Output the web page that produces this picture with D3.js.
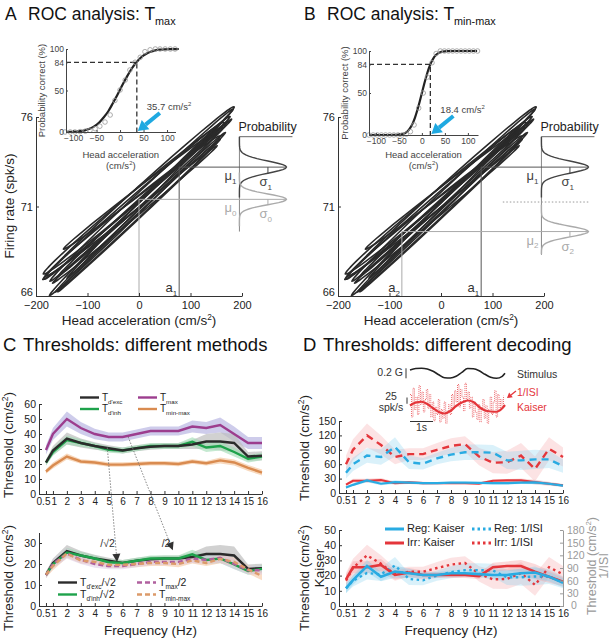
<!DOCTYPE html>
<html lang="en">
<head>
<meta charset="UTF-8">
<title>ROC analysis and thresholds</title>
<script src="https://cdn.jsdelivr.net/npm/d3@7"></script>
<style>
  body { margin: 0; background: #fff; }
  svg { display: block; }
</style>
</head>
<body>
<svg id="fig" width="612" height="639"></svg>
<script>
// ---------- data ----------
// A/B: psychometric (ROC) curves, head acceleration (cm/s^2) vs probability correct (%)
const fitAccA = [-115,-105,-95,-85,-75,-65,-55,-45,-35,-25,-15,-5,5,15,25,35,45,55,65,75,85,95,105,115,125];
const fitPctA = [0.1,0.2,0.5,1,2,3.8,6.7,11,17.4,25,35,45.6,56.6,67,76.5,84,90,94,96.7,98.3,99.2,99.6,99.8,99.9,100];
const ptAccA = [-117,-106,-96,-85,-74,-64,-53,-43,-32,-21,-11,0,11,21,32,43,53,64,75,85,96,107,117];
const ptPctA = [0,0,0,0.5,1,2,4,7,12,20.5,38,50.6,62.6,74.7,84,90,96.8,99,100,100,100,100,100];
const thrA = 35.7;

const fitAccB = [-115,-95,-75,-55,-45,-40,-35,-30,-25,-20,-15,-10,-5,0,5,10,15,20,25,30,35,40,45,55,75,95,120];
const fitPctB = [0,0,0,0.1,0.7,1.5,2.9,5.2,8.7,13.8,20.7,29.4,39.3,50,60.7,70.6,79.3,86.2,91.3,94.8,97.1,98.5,99.3,99.9,100,100,100];
const ptAccB = [-115,-106,-97,-88,-79,-70,-61,-52,-43,-34,-25,-17,-7,3,12,22,31,40,49,58,67,76,85,94,103,112,121];
const ptPctB = [0,0,0,0,0,0,0,0,0,1,4,12,32,50,69,86,97,100,100,100,100,100,100,100,100,100,100];
const thrB = 18.4;

// firing rate vs acceleration loops (one entry per stimulus cycle)
const loopAmp   = [178, 160, 185, 150, 170, 165, 182, 155, 172, 168, 176, 158];
const loopShift = [5, -8, 0, 10, -12, 3, -5, 8, -2, 12, -10, 0];
const loopOff   = [0.3, -0.45, 0.55, -0.15, 0.1, -0.6, 0.4, 0.65, -0.3, 0.0, 0.5, -0.7];
const loopGain  = [0.027, 0.024, 0.026, 0.029, 0.023, 0.027, 0.025, 0.022, 0.028, 0.026, 0.024, 0.027];
const loopWidth = [0.3, 0.2, 0.4, 0.18, 0.35, 0.22, 0.3, 0.25, 0.3, 0.22, 0.4, 0.18];
const rateAt0 = 71.2;

// response distributions: [stimulus a1, reference a0/a2]
const distAccA = [78, 0],   distMuA = [73.2, 71.4], distSdA = [0.34, 0.3];
const distAccB = [78, -76], distMuB = [73.2, 69.6], distSdB = [0.34, 0.3];
const criterionB = 71.25;

// C: thresholds by method (cm/s^2)
const freqs = [0.5, 1, 2, 3, 4, 5, 6, 7, 8, 9, 10, 11, 12, 13, 14, 15, 16];
const tDexc   = [21, 29, 37, 34, 32, 30.5, 29, 30.5, 31.5, 32, 32, 33, 35, 35, 34, 25, 25.5];
const tDinh   = [21, 28, 36, 34, 32, 29.5, 29, 30.5, 32, 32, 32, 34.8, 31, 32, 28, 23.5, 25];
const tMax    = [29.4, 40, 50, 44, 40, 38, 38, 40, 42, 42, 42, 45, 44, 46, 40, 34, 34];
const tMinMax = [15, 19, 25, 21.7, 21, 19.6, 19.6, 20, 20.5, 20.5, 20, 21.7, 20.5, 22.4, 21, 17.4, 14.3];
const eDexc   = [2, 3, 4, 3, 2.5, 2, 2, 2, 2, 2, 2, 3, 5, 6, 6, 3, 3];
const eDinh   = [2, 2.5, 3, 2.5, 2, 2, 2, 2, 2, 2, 2, 3, 3, 3, 3, 2.5, 2.5];
const eMax    = [3, 4, 5, 4, 3.5, 3, 3, 3, 3, 3, 3, 4, 4, 5, 5, 4, 4];
const eMinMax = [1.5, 2, 2, 1.5, 1.5, 1.5, 1.5, 1.5, 1.5, 1.5, 1.5, 1.5, 1.5, 2, 2, 2, 2];

// D: thresholds by decoding (cm/s^2)
const irrKaiser = [17.5, 25.5, 25.5, 27, 20.4, 22, 20.4, 20.4, 20.4, 20.4, 19.7, 25.5, 26.3, 26.3, 22.6, 19.3, 16];
const regKaiser = [11.6, 17, 26.3, 19.3, 22.6, 21.5, 20.4, 20.4, 21.5, 21.5, 21, 20.4, 20.4, 21.5, 22, 19.3, 15.3];
const irrIsi    = [60, 90, 120, 100, 75, 81, 81, 90, 98, 102, 76, 63, 64, 78, 50, 92, 75];
const regIsi    = [42, 60, 78, 75, 96, 64, 61, 72, 80, 85, 85, 84, 68, 68, 70, 70, 56];
const eIrrKaiser = [3, 4, 4, 4, 3, 3, 3, 2, 2, 2, 2, 3, 3, 4, 5, 4, 3];
const eRegKaiser = [3, 3, 4, 3, 4, 3, 2, 2, 2, 2, 2, 3, 3, 3, 4, 3, 3];
const eIrrIsi    = [18, 22, 25, 20, 15, 12, 12, 14, 16, 16, 18, 22, 24, 26, 26, 24, 20];
const eRegIsi    = [12, 14, 15, 16, 20, 14, 12, 12, 14, 16, 16, 16, 18, 20, 20, 18, 14];

// D inset: stimulus (G) and firing rate (spk/s) over time (s)
const stimT = [0, 0.25, 0.5, 0.75, 1, 1.25, 1.5, 1.75, 2, 2.25, 2.5, 2.75, 3, 3.25, 3.5, 3.75, 4, 4.12];
const stimG = [0.066, 0.095, 0.1, 0.085, 0.04, -0.03, -0.09, -0.095, -0.06, 0.02, 0.095, 0.09, 0.05, -0.02, -0.08, -0.1, -0.06, 0];
const kaiserRate = [106, 118, 121, 112, 95, 80, 74, 84, 104, 118, 126, 120, 100, 86, 82, 81, 95, 108];
const isiRate = [150, 60, 175, 90, 140, 70, 185, 110, 160, 80, 130, 170, 95, 150, 60, 120, 45, 100, 70, 130, 40, 90,
  55, 120, 35, 85, 110, 70, 150, 95, 165, 120, 190, 100, 170, 140, 85, 195, 130, 160, 95, 140, 60, 120, 80, 50,
  110, 40, 95, 130, 55, 105, 35, 90, 140, 70, 120, 165, 60, 150, 85, 130, 100, 145];

// ---------- helpers ----------
const FONT = '"Liberation Sans", Arial, Helvetica, sans-serif';
const svg = d3.select("#fig").attr("font-family", FONT);

function txt(g, x, y, parts, size, o = {}) {
  const t = g.append("text").attr("x", x).attr("y", y)
    .attr("font-size", size).attr("fill", o.fill || "#222")
    .attr("text-anchor", o.anchor || "start");
  if (o.rot) t.attr("transform", `rotate(-90,${x},${y})`);
  let shift = 0;
  (Array.isArray(parts) ? parts : [parts]).forEach(p => {
    const q = typeof p === "string" ? { t: p } : p;
    const target = q.sub ? size * 0.3 : q.sup ? -size * 0.38 : 0;
    const s = t.append("tspan").text(q.t).attr("dy", target - shift);
    if (q.sub || q.sup) s.attr("font-size", size * 0.62);
    shift = target;
  });
  return t;
}

function axis(g, gen, tx, ty, size, color = "#333") {
  const a = g.append("g").attr("transform", `translate(${tx},${ty})`).call(gen)
    .attr("font-family", FONT).attr("font-size", size);
  a.select(".domain").attr("stroke", color);
  a.selectAll(".tick line").attr("stroke", color);
  a.selectAll(".tick text").attr("fill", color === "#333" ? "#222" : color);
  return a;
}

function arrow(g, x1, y1, x2, y2, w, hl, hw, color) {
  const a = Math.atan2(y2 - y1, x2 - x1), c = Math.cos(a), s = Math.sin(a);
  const bx = x2 - hl * c, by = y2 - hl * s;
  g.append("line").attr("x1", x1).attr("y1", y1).attr("x2", bx).attr("y2", by)
    .attr("stroke", color).attr("stroke-width", w);
  g.append("path").attr("fill", color)
    .attr("d", `M${x2},${y2}L${bx - hw * s},${by + hw * c}L${bx + hw * s},${by - hw * c}Z`);
}

const sup2 = (pre, post = ")") => [pre, { t: "2", sup: true }, post];

// ---------- panels A and B ----------
function drawRoc(p) {
  const g = svg.append("g");
  const x = d3.scaleLinear([-200, 200], p.mainX);
  const y = d3.scaleLinear([66, 76], [296, 117]);

  txt(g, p.titleX, 20, p.letter, 17.5, { fill: "#111" });
  txt(g, p.titleX + 23, 20, ["ROC analysis: T", { t: p.sub, sub: true }], 17.5, { fill: "#111" });

  // loops
  const angles = d3.range(0, 360, 10).map(d => d * Math.PI / 180);
  loopAmp.forEach((A, i) => {
    const pts = angles.map(t => {
      const acc = loopShift[i] + A * Math.sin(t);
      return [x(acc), y(rateAt0 + loopOff[i] + loopGain[i] * acc + loopWidth[i] * Math.cos(t))];
    });
    g.append("path").attr("d", d3.line().curve(d3.curveCatmullRomClosed)(pts))
      .attr("fill", "none").attr("stroke", "#2a2a2a").attr("stroke-width", 1.6);
  });

  // distributions
  const dx = x(195), amp = 47;
  const colors = ["#444", "#aaa"];
  g.append("line").attr("x1", dx).attr("x2", dx).attr("y1", y(74.9)).attr("y2", y(p.distBottom))
    .attr("stroke", "#888");
  g.append("line").attr("x1", dx).attr("x2", dx + 53).attr("y1", y(74.9)).attr("y2", y(74.9))
    .attr("stroke", "#666");
  txt(g, dx - 1, y(74.9) - 6, "Probability", 12.5, { fill: "#222" });

  p.mu.forEach((mu, i) => {
    const sd = p.sd[i], c = colors[i];
    const xa = p.acc[i];
    // criterion lines
    g.append("line").attr("x1", x(xa)).attr("x2", x(xa)).attr("y1", y(66)).attr("y2", y(mu))
      .attr("stroke", i ? "#aaa" : "#555");
    g.append("line").attr("x1", x(xa)).attr("x2", dx + amp).attr("y1", y(mu)).attr("y2", y(mu))
      .attr("stroke", i ? "#aaa" : "#555");
    const ys = d3.range(-5, 5.01, 0.2).map(k => mu + k * sd);
    g.append("path").attr("fill", "none").attr("stroke", c).attr("stroke-width", 1.4)
      .attr("d", d3.line()(ys.filter(v => v <= 74.9 && v >= p.distBottom)
        .map(v => [dx + amp * Math.exp(-0.5 * ((v - mu) / sd) ** 2), y(v)])));
    const sx = dx + amp * Math.exp(-0.5);
    g.append("line").attr("x1", sx).attr("x2", sx).attr("y1", y(mu)).attr("y2", y(mu - sd))
      .attr("stroke", c);
    txt(g, dx - 3, y(mu) + 13, ["μ", { t: p.idx[i], sub: true }], 13, { fill: c, anchor: "end" });
    txt(g, dx + 20, y(mu) + 19, ["σ", { t: p.idx[i], sub: true }], 13, { fill: c });
    if (p.aLabels[i]) txt(g, x(xa) - 2, 292, ["a", { t: p.idx[i], sub: true }], 13, { fill: "#333", anchor: "end" });
  });
  if (p.criterion) {
    g.append("line").attr("x1", x(120)).attr("x2", dx + amp).attr("y1", y(p.criterion)).attr("y2", y(p.criterion))
      .attr("stroke", "#999").attr("stroke-dasharray", "1.5,2");
  }

  axis(g, d3.axisBottom(x).tickValues([-200, -100, 0, 100, 200]).tickSizeInner(-3).tickSizeOuter(0).tickPadding(5),
    0, 296, 11);
  const ya = axis(g, d3.axisLeft(y).tickValues([66, 71, 76]).tickSizeInner(-3).tickSizeOuter(0).tickPadding(3),
    p.mainX[0], 0, 11);
  ya.selectAll(".tick text").filter(d => d === 66).attr("y", -4);
  txt(g, (p.mainX[0] + p.mainX[1]) / 2, 325, sup2("Head acceleration (cm/s"), 13.5, { anchor: "middle" });
  if (p.yLabel) txt(g, p.mainX[0] - 22, 206, "Firing rate (spk/s)", 13.5, { anchor: "middle", rot: true });

  // inset psychometric curve
  const xi = d3.scaleLinear(p.insetDom, p.insetX);
  const yi = d3.scaleLinear([0, 100], p.insetY);
  const gi = g.append("g");
  gi.append("rect").attr("x", p.insetX[0]).attr("y", p.insetY[1] - 2)
    .attr("width", p.insetX[1] - p.insetX[0]).attr("height", p.insetY[0] - p.insetY[1] + 2).attr("fill", "#fff");
  gi.append("path").attr("fill", "none").attr("stroke", "#333").attr("stroke-width", 1.3)
    .attr("stroke-dasharray", "5,3")
    .attr("d", `M${xi(p.insetDom[0])},${yi(84)}H${xi(p.thr)}V${yi(0)}`);
  gi.append("path").attr("fill", "none").attr("stroke", "#222").attr("stroke-width", 2.2)
    .attr("d", d3.line().curve(d3.curveMonotoneX).x((d, i) => xi(p.fitAcc[i])).y(d => yi(d))(p.fitPct));
  gi.selectAll("circle.pt").data(p.ptPct).join("circle")
    .attr("cx", (d, i) => xi(p.ptAcc[i])).attr("cy", d => yi(d)).attr("r", 2.3)
    .attr("fill", "none").attr("stroke", "#999").attr("stroke-width", 0.8);
  axis(gi, d3.axisBottom(xi).tickValues([-100, -50, 0, 50, 100]).tickSizeInner(-2).tickSizeOuter(0).tickPadding(3),
    0, yi(0), 8.5, "#444");
  axis(gi, d3.axisLeft(yi).tickValues([0, 50, 84, 100]).tickSizeInner(-2).tickSizeOuter(0).tickPadding(2),
    xi(p.insetDom[0]), 0, 8.5, "#444");
  const tipX = xi(p.thr) + 1, tipY = yi(0) - 1;
  arrow(gi, tipX + 22, tipY - 18, tipX, tipY, 4, 10, 6, "#1fa9e1");
  txt(gi, xi(p.thr) + 10, yi(0) - 22, sup2(p.thr + " cm/s", ""), 9.5, { fill: "#444" });
  const cx = (p.insetX[0] + p.insetX[1]) / 2;
  txt(gi, cx, 158, "Head acceleration", 9.5, { fill: "#444", anchor: "middle" });
  txt(gi, cx, 169, sup2("(cm/s"), 9.5, { fill: "#444", anchor: "middle" });
  txt(gi, p.insetX[0] - 21, (p.insetY[0] + p.insetY[1]) / 2, "Probability correct (%)", 9.5,
    { fill: "#444", anchor: "middle", rot: true });
}

drawRoc({
  letter: "A", sub: "max", titleX: 5, mainX: [36, 242], yLabel: true,
  insetDom: [-115, 118], insetX: [66, 175.5], insetY: [132, 49],
  fitAcc: fitAccA, fitPct: fitPctA, ptAcc: ptAccA, ptPct: ptPctA, thr: thrA,
  mu: distMuA, sd: distSdA, acc: distAccA, idx: ["1", "0"], aLabels: [true, false], distBottom: 69.6
});
drawRoc({
  letter: "B", sub: "min-max", titleX: 304, mainX: [338, 544], yLabel: false,
  insetDom: [-115, 122], insetX: [369, 478], insetY: [135, 51],
  fitAcc: fitAccB, fitPct: fitPctB, ptAcc: ptAccB, ptPct: ptPctB, thr: thrB,
  mu: distMuB, sd: distSdB, acc: distAccB, idx: ["1", "2"], aLabels: [true, true], distBottom: 68.3,
  criterion: criterionB
});

// ---------- panels C and D ----------
const freqTicks = [0.5, 1, 2, 3, 4, 5, 6, 7, 8, 9, 10, 11, 12, 13, 14, 15, 16];

function freqAxis(g, x, y0, label) {
  const a = axis(g, d3.axisBottom(x).tickValues(freqTicks).tickSizeInner(-3).tickSizeOuter(0).tickPadding(4)
    .tickFormat(d => d === 0.5 ? "0.5" : d), 0, y0, 10);
  a.selectAll(".tick text").filter(d => d === 0.5).attr("text-anchor", "end").attr("x", 4);
  a.selectAll(".tick text").filter(d => d === 1).attr("text-anchor", "start").attr("x", -2);
  if (label) txt(g, (x.range()[0] + x.range()[1]) / 2, 635, "Frequency (Hz)", 13.5, { anchor: "middle" });
}

function band(g, x, y, vals, errs, color, op) {
  g.append("path").attr("fill", color).attr("fill-opacity", op)
    .attr("d", d3.area().x((d, i) => x(freqs[i])).y0((d, i) => y(d - errs[i])).y1((d, i) => y(d + errs[i]))(vals));
}
function line(g, x, y, vals, color, w, dash) {
  const p = g.append("path").attr("fill", "none").attr("stroke", color).attr("stroke-width", w)
    .attr("d", d3.line().x((d, i) => x(freqs[i])).y(d => y(d))(vals));
  if (dash) p.attr("stroke-dasharray", dash);
}
function legendItem(g, x, y, color, w, dash, parts, size = 10) {
  const l = g.append("line").attr("x1", x).attr("x2", x + 19).attr("y1", y).attr("y2", y)
    .attr("stroke", color).attr("stroke-width", w);
  if (dash) l.attr("stroke-dasharray", dash);
  txt(g, x + 22, y + 3, parts, size);
}

const BLACK = "#2b2b2b", GREEN = "#1ea24b", PURPLE = "#9c3d8e", ORANGE = "#d98b50";
const RED = "#e4363b", BLUE = "#29abe2";

// C
{
  const g = svg.append("g");
  txt(g, 3, 351, "C", 18.5, { fill: "#111" });
  txt(g, 23, 351, "Thresholds: different methods", 18.5, { fill: "#111" });
  const x = d3.scaleLinear([0, 16], [39, 262]);
  const y1 = d3.scaleLinear([0, 60], [494, 404]);
  band(g, x, y1, tMax, eMax, "#b9b7e3", 0.7);
  band(g, x, y1, tDexc, eDexc, "#bdbdbd", 0.7);
  band(g, x, y1, tDinh, eDinh, "#9fdbb2", 0.6);
  band(g, x, y1, tMinMax, eMinMax, "#f6cfae", 0.8);
  line(g, x, y1, tMinMax, ORANGE, 2.4);
  line(g, x, y1, tMax, PURPLE, 2.4);
  line(g, x, y1, tDinh, GREEN, 2.4);
  line(g, x, y1, tDexc, BLACK, 2.4);
  freqAxis(g, x, 494, false);
  axis(g, d3.axisLeft(y1).tickValues(d3.range(0, 61, 10)).tickSizeInner(-3).tickSizeOuter(0).tickPadding(3), 39, 0, 10.5);
  txt(g, 13, 445, sup2("Threshold (cm/s"), 13.5, { anchor: "middle", rot: true });
  legendItem(g, 80, 397.5, BLACK, 2.4, null, ["T", { t: "d'exc", sub: true }]);
  legendItem(g, 80, 409, GREEN, 2.4, null, ["T", { t: "d'inh", sub: true }]);
  legendItem(g, 138, 397.5, PURPLE, 2.4, null, ["T", { t: "max", sub: true }]);
  legendItem(g, 138, 409, ORANGE, 2.4, null, ["T", { t: "min-max", sub: true }]);

  const y2 = d3.scaleLinear([0, 35], [606, 532.5]);
  const r2 = Math.SQRT2;
  band(g, x, y2, tDexc.map(v => v / r2), eDexc.map(v => v / r2), "#bdbdbd", 0.7);
  band(g, x, y2, tDinh.map(v => v / r2), eDinh.map(v => v / r2), "#9fdbb2", 0.6);
  band(g, x, y2, tMinMax, eMinMax, "#f6cfae", 0.7);
  band(g, x, y2, tMax.map(v => v / 2), eMax.map(v => v / 2), "#d9c7e6", 0.5);
  line(g, x, y2, tDexc.map(v => v / r2), BLACK, 2.4);
  line(g, x, y2, tDinh.map(v => v / r2), GREEN, 2.4);
  line(g, x, y2, tMax.map(v => v / 2), "#b0609f", 2.4, "5,3");
  line(g, x, y2, tMinMax, "#dc9a6a", 2.4, "5,3");
  freqAxis(g, x, 606, true);
  axis(g, d3.axisLeft(y2).tickValues([0, 10, 20, 30]).tickSizeInner(-3).tickSizeOuter(0).tickPadding(3), 39, 0, 10.5);
  txt(g, 13, 578, sup2("Threshold (cm/s"), 13.5, { anchor: "middle", rot: true });
  legendItem(g, 58, 582.5, BLACK, 2.4, null, ["T", { t: "d'exc", sub: true }, "/√2"], 10.5);
  legendItem(g, 58, 594.5, GREEN, 2.4, null, ["T", { t: "d'inh", sub: true }, "/√2"], 10.5);
  legendItem(g, 137, 582.5, "#b0609f", 2.4, "5,3", ["T", { t: "max", sub: true }, "/2"], 10.5);
  legendItem(g, 137, 594.5, "#dc9a6a", 2.4, "5,3", ["T", { t: "min-max", sub: true }], 10.5);

  // scaling arrows from top to bottom panel
  const arrows = [{ f0: 4.9, v0: 31, f1: 5.6, v1: 21, lbl: "/√2", lf: 4.4, lv: 28 },
                  { f0: 6.4, v0: 38, f1: 9.6, v1: 26.5, lbl: "/2", lf: 8.8, lv: 28 }];
  arrows.forEach(a => {
    const X1 = x(a.f0), Y1 = y1(a.v0), X2 = x(a.f1), Y2 = y2(a.v1);
    const ang = Math.atan2(Y2 - Y1, X2 - X1);
    g.append("line").attr("x1", X1).attr("y1", Y1).attr("x2", X2 - 7 * Math.cos(ang)).attr("y2", Y2 - 7 * Math.sin(ang))
      .attr("stroke", "#777").attr("stroke-width", 0.9).attr("stroke-dasharray", "1.5,1.5");
    arrow(g, X2 - 8 * Math.cos(ang), Y2 - 8 * Math.sin(ang), X2, Y2, 0.1, 8, 4, "#333");
    txt(g, x(a.lf), y2(a.lv), a.lbl, 10.5, { fill: "#333" });
  });
}

// D
{
  const g = svg.append("g");
  txt(g, 303, 351, "D", 18.5, { fill: "#111" });
  txt(g, 323, 351, "Thresholds: different decoding", 18.5, { fill: "#111" });
  const x = d3.scaleLinear([0, 16], [339, 563]);
  const y1 = d3.scaleLinear([0, 150], [493, 421]);
  band(g, x, y1, irrIsi, eIrrIsi, "#f4a3a6", 0.3);
  band(g, x, y1, regIsi, eRegIsi, "#86cfee", 0.3);
  band(g, x, y1, irrKaiser, eIrrKaiser, "#f4a3a6", 0.4);
  band(g, x, y1, regKaiser, eRegKaiser, "#86cfee", 0.4);
  line(g, x, y1, irrIsi, RED, 2.4, "7,5");
  line(g, x, y1, regIsi, BLUE, 2.4, "7,5");
  line(g, x, y1, irrKaiser, RED, 2.2);
  line(g, x, y1, regKaiser, BLUE, 2.2);
  freqAxis(g, x, 493, false);
  axis(g, d3.axisLeft(y1).tickValues(d3.range(0, 151, 30)).tickSizeInner(-3).tickSizeOuter(0).tickPadding(3), 339, 0, 10.5);
  txt(g, 309, 448, sup2("Threshold (cm/s"), 13.5, { anchor: "middle", rot: true });

  const y2 = d3.scaleLinear([0, 50], [606, 530]);
  const yr = d3.scaleLinear([0, 180], [606, 530]);
  band(g, x, yr, irrIsi, eIrrIsi, "#f4a3a6", 0.3);
  band(g, x, yr, regIsi, eRegIsi, "#86cfee", 0.3);
  band(g, x, y2, irrKaiser, eIrrKaiser, "#f4a3a6", 0.4);
  band(g, x, y2, regKaiser, eRegKaiser, "#86cfee", 0.4);
  line(g, x, yr, irrIsi, RED, 2.4, "2.5,3.5");
  line(g, x, yr, regIsi, BLUE, 2.4, "2.5,3.5");
  line(g, x, y2, irrKaiser, RED, 2.6);
  line(g, x, y2, regKaiser, BLUE, 2.6);
  freqAxis(g, x, 606, true);
  axis(g, d3.axisLeft(y2).tickValues(d3.range(0, 51, 10)).tickSizeInner(-3).tickSizeOuter(0).tickPadding(3), 339, 0, 10.5);
  const ra = axis(g, d3.axisRight(yr).tickValues(d3.range(0, 181, 30)).tickSizeInner(-3).tickSizeOuter(0).tickPadding(4),
    563, 0, 10.5, "#9a9a9a");
  ra.selectAll(".tick text").filter(d => d === 0).attr("x", 8).attr("y", -1);
  txt(g, 309, 578, sup2("Threshold (cm/s"), 13.5, { anchor: "middle", rot: true });
  txt(g, 324, 568, "Kaiser", 13.5, { anchor: "middle", rot: true });
  txt(g, 596, 566, sup2("Threshold (cm/s"), 12.5, { anchor: "middle", rot: true, fill: "#9a9a9a" });
  txt(g, 607.5, 566, "1/ISI", 12.5, { anchor: "middle", rot: true, fill: "#9a9a9a" });
  legendItem(g, 385, 529, BLUE, 3, null, "Reg: Kaiser", 11);
  legendItem(g, 385, 543, RED, 3, null, "Irr: Kaiser", 11);
  legendItem(g, 472, 529, BLUE, 3, "2.5,3", "Reg: 1/ISI", 11);
  legendItem(g, 472, 543, RED, 3, "2.5,3", "Irr: 1/ISI", 11);

  // inset: stimulus and decoded firing rate
  const xt = d3.scaleLinear([0, 4.12], [410, 505]);
  const ys = d3.scaleLinear([-0.1, 0.1], [378.3, 368.3]);
  const yf = d3.scaleLinear([0, 200], [432, 382]);
  g.append("path").attr("fill", "none").attr("stroke", "#222").attr("stroke-width", 1.6)
    .attr("d", d3.line().curve(d3.curveMonotoneX).x((d, i) => xt(stimT[i])).y(d => ys(d))(stimG));
  g.append("path").attr("fill", "none").attr("stroke", "#e8474c").attr("stroke-width", 0.8)
    .attr("stroke-dasharray", "1,1")
    .attr("d", d3.line().curve(d3.curveStepAfter).x((d, i) => xt(i * 4.12 / isiRate.length)).y(d => yf(d))(isiRate));
  g.append("path").attr("fill", "none").attr("stroke", RED).attr("stroke-width", 2.2)
    .attr("d", d3.line().curve(d3.curveMonotoneX).x((d, i) => xt(stimT[i])).y(d => yf(d))(kaiserRate));
  g.append("line").attr("x1", 406).attr("x2", 406).attr("y1", ys(-0.1)).attr("y2", ys(0.1)).attr("stroke", "#333");
  txt(g, 403, 376, "0.2 G", 10.5, { fill: "#333", anchor: "end" });
  g.append("line").attr("x1", 407).attr("x2", 407).attr("y1", yf(113)).attr("y2", yf(138)).attr("stroke", "#333");
  txt(g, 391, 400, "25", 10.5, { fill: "#333", anchor: "middle" });
  txt(g, 391, 411, "spk/s", 10.5, { fill: "#333", anchor: "middle" });
  g.append("line").attr("x1", xt(0)).attr("x2", xt(1)).attr("y1", 421.5).attr("y2", 421.5).attr("stroke", "#333");
  txt(g, xt(0.5), 431, "1s", 10.5, { fill: "#333", anchor: "middle" });
  txt(g, 517, 378, "Stimulus", 10.5, { fill: "#333" });
  txt(g, 517, 396, "1/ISI", 10.5, { fill: RED });
  txt(g, 517, 411, "Kaiser", 10.5, { fill: RED });
  arrow(g, 516, 391, 507, 398, 1.3, 5, 3, RED);
}
</script>
</body>
</html>
